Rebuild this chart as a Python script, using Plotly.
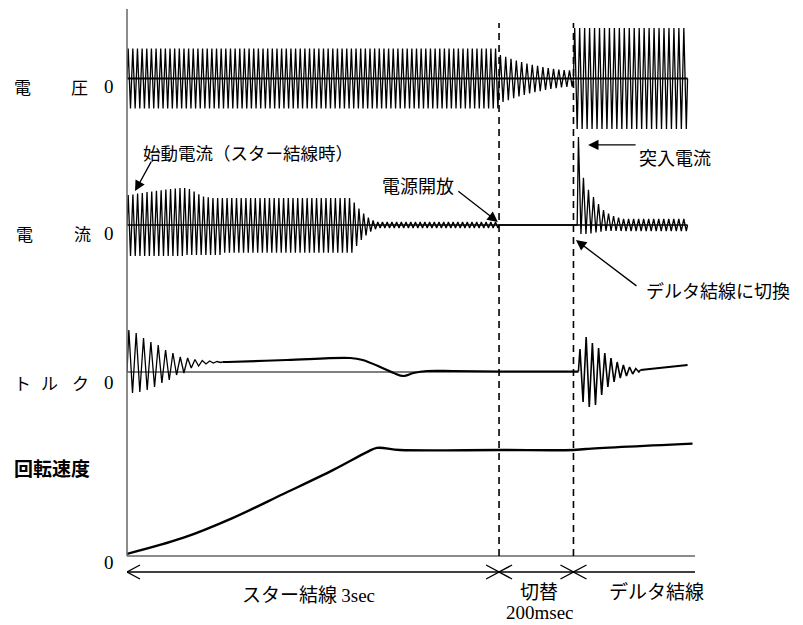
import plotly.graph_objects as go

# 時間軸（任意単位）: スター結線 0-3.0, 切替 3.0-3.6, デルタ結線 3.6-
phase_edges = [0.0, 3.0, 3.6]
phase_names = ["スター結線", "切替", "デルタ結線"]
x_end = 4.58
rec_end = 4.52

row_names = [["電", "圧"], ["電", "流"], ["ト", "ル", "ク"], ["回転速度"]]

# 電圧 (各サイクルの振幅)
volt_star_amp = [1.0] * 80
volt_open_amp = [0.78, 0.72, 0.66, 0.6, 0.55, 0.5, 0.46, 0.42, 0.38, 0.35, 0.32, 0.3, 0.28, 0.27]
volt_delta_amp = [1.68] * 23

# 電流 (各サイクルの上側・下側ピーク)
cur_star_up = ([1.0, 1.02, 1.05, 1.07, 1.1, 1.12, 1.14, 1.16, 1.18, 1.2, 1.22, 1.23, 1.23,
                1.2, 1.12, 1.02, 0.95, 0.92, 0.9] + [0.9] * 29
               + [0.75, 0.55, 0.38, 0.25, 0.15] + [0.1] * 26)
cur_star_dn = ([-1.03] * 12 + [-1.0] * 8 + [-0.92] * 28
               + [-0.7, -0.5, -0.35, -0.22, -0.14] + [-0.1] * 26)
cur_delta_up = [2.93, 1.57, 1.17, 0.93, 0.7, 0.5, 0.38, 0.3, 0.25] + [0.2] * 13
cur_delta_dn = [-0.3, -0.3, -0.28, -0.25, -0.22, -0.2, -0.2, -0.2] + [-0.2] * 14

# トルク
trq_star_up = [4.2, 3.9, 3.4, 3.0, 2.7, 2.2, 1.9, 1.5, 1.4, 1.25, 1.15, 1.1, 1.05]
trq_star_dn = [-2.1, -2.0, -1.8, -1.5, -1.1, -0.8, -0.3, -0.1, 0.4, 0.6, 0.8, 0.9, 0.95]
trq_mid_x = [0.77, 0.81, 1.29, 1.80, 1.90, 2.06, 2.15, 2.23, 2.31, 2.42, 2.63, 3.0, 3.64]
trq_mid_y = [1.0, 1.0, 1.2, 1.4, 1.2, 0.4, -0.1, -0.4, -0.1, 0.1, 0.1, 0.05, 0.05]
trq_delta_up = [2.3, 3.5, 2.9, 2.4, 1.9, 1.4, 1.0, 0.7, 0.5, 0.35]
trq_delta_dn = [-3.0, -3.5, -3.3, -2.3, -1.5, -1.0, -0.6, -0.4, -0.2, 0.0]
trq_end_x = [4.14, rec_end]
trq_end_y = [0.2, 0.7]

# 回転速度
spd_x = [0.0, 0.45, 0.855, 1.26, 1.66, 1.935, 2.016, 2.2, 3.0, 3.6, 3.7, 4.56]
spd_y = [0.02, 0.17, 0.36, 0.585, 0.81, 0.98, 1.02, 1.0, 1.0, 1.0, 1.01, 1.06]

CJK = "Noto Sans CJK JP"
SERIF = "Liberation Serif"
L, R, T, B = 127, 695, 9, 556   # plot area in px


def wave(x0, x1, ups, downs, y0=0.0, y1=0.0):
    n = len(ups)
    dt = (x1 - x0) / n
    xs, ys = [x0], [y0]
    for i in range(n):
        xs += [x0 + (i + 0.25) * dt, x0 + (i + 0.75) * dt]
        ys += [ups[i], downs[i]]
    xs.append(x1)
    ys.append(y1)
    return xs, ys


def dom(top, bot):
    return [(B - bot) / (B - T), (B - top) / (B - T)]


def px(x):
    return (x - L) / (R - L)


def py(y):
    return (B - y) / (B - T)


fig = go.Figure()
blk = dict(color="black", width=1.3)

# 電圧
xs, ys = wave(0, 3.0, volt_star_amp, [-a for a in volt_star_amp])
x2, y2 = wave(3.0, 3.6, volt_open_amp, [-a for a in volt_open_amp])
x3, y3 = wave(3.6, rec_end, volt_delta_amp, [-a for a in volt_delta_amp])
fig.add_trace(go.Scatter(x=xs + x2 + x3, y=ys + y2 + y3, mode="lines", line=blk, yaxis="y4"))
fig.add_trace(go.Scatter(x=[0, rec_end], y=[0, 0], mode="lines",
                         line=dict(color="black", width=2), yaxis="y4"))

# 電流
xs, ys = wave(0, 3.0, cur_star_up, cur_star_dn)
x3, y3 = wave(3.63, rec_end, cur_delta_up, cur_delta_dn)
fig.add_trace(go.Scatter(x=xs + [3.63] + x3, y=ys + [0] + y3, mode="lines", line=blk, yaxis="y3"))
fig.add_trace(go.Scatter(x=[0, rec_end], y=[0, 0], mode="lines",
                         line=dict(color="black", width=1.5), yaxis="y3"))

# トルク
xs, ys = wave(0, 0.77, trq_star_up, trq_star_dn, 0.0, 1.0)
fig.add_trace(go.Scatter(x=xs, y=ys, mode="lines", line=blk, yaxis="y2"))
fig.add_trace(go.Scatter(x=trq_mid_x, y=trq_mid_y, mode="lines", line_shape="spline",
                         line=dict(color="black", width=2.2), yaxis="y2"))
x3, y3 = wave(3.64, 4.14, trq_delta_up, trq_delta_dn, 0.05, 0.2)
fig.add_trace(go.Scatter(x=x3, y=y3, mode="lines", line=dict(color="black", width=1.6), yaxis="y2"))
fig.add_trace(go.Scatter(x=trq_end_x, y=trq_end_y, mode="lines",
                         line=dict(color="black", width=2.2), yaxis="y2"))
fig.add_trace(go.Scatter(x=[0, 3.64], y=[0, 0], mode="lines",
                         line=dict(color="black", width=1.2), yaxis="y2"))

# 回転速度
fig.add_trace(go.Scatter(x=spd_x, y=spd_y, mode="lines", line_shape="spline",
                         line=dict(color="black", width=2.4), yaxis="y"))

shapes = []
# 軸
shapes.append(dict(type="line", xref="paper", yref="paper", x0=0, x1=0, y0=0, y1=1,
                   line=dict(color="#666", width=1.5)))
shapes.append(dict(type="line", xref="paper", yref="paper", x0=0, x1=1, y0=0, y1=0,
                   line=dict(color="#666", width=1.5)))
# 破線
for xe in phase_edges[1:]:
    shapes.append(dict(type="line", xref="x", yref="paper", x0=xe, x1=xe, y0=0, y1=py(23),
                       line=dict(color="black", width=1.6, dash="7px,5px")))
# 期間矢印
ya = py(572)
hy = 7 / (B - T)
hx = 13 / (R - L) * x_end
shapes.append(dict(type="line", xref="x", yref="paper", x0=0, x1=x_end, y0=ya, y1=ya,
                   line=dict(color="black", width=1.4)))
for i, xe in enumerate(phase_edges):
    shapes.append(dict(type="path", xref="x", yref="paper",
                       path=f"M{xe+hx},{ya+hy} L{xe},{ya} L{xe+hx},{ya-hy}",
                       line=dict(color="black", width=1.4)))
    if i > 0:
        shapes.append(dict(type="path", xref="x", yref="paper",
                           path=f"M{xe-hx},{ya+hy} L{xe},{ya} L{xe-hx},{ya-hy}",
                           line=dict(color="black", width=1.4)))

ann = []


def txt(t, x, y, size=18, fam=CJK, anchor="center"):
    ann.append(dict(text=t, xref="paper", yref="paper", x=px(x), y=py(y), showarrow=False,
                    xanchor=anchor, yanchor="middle", font=dict(family=fam, size=size, color="black")))


# 行ラベル
row_x = [[22, 79], [24, 82], [22, 50, 80]]
row_y = [86, 233, 382]
for names, xx, yy in zip(row_names[:3], row_x, row_y):
    for c, x in zip(names, xx):
        txt(c, x, yy, 17)
    txt("0", 108.5, yy, 19, SERIF)
ann.append(dict(text="<b>" + row_names[3][0] + "</b>", xref="paper", yref="paper",
                x=px(12), y=py(483), showarrow=False, xanchor="left",
                font=dict(family=CJK, size=19, color="black")))
txt("0", 109, 562, 19, SERIF)

# 期間ラベル
txt(phase_names[0] + " <span style='font-family:Liberation Serif'>3sec</span>", 308, 593, 19)
txt(phase_names[1], 539, 591, 19)
txt(phase_names[2], 656, 591, 19)
txt("200msec", 540, 612, 19, SERIF)

# 注記
txt("始動電流（スター結線時）", 141, 152, 17.5, anchor="left")
txt("電源開放", 456, 185, 18, anchor="right")
txt("突入電流", 637, 157, 18, anchor="left")
txt("デルタ結線に切換", 644, 290, 18, anchor="left")

arrows = [(0.065, 1.13, 17, -31), (3.718, 2.67, 49, 0), (2.99, 0.1, -41, -32), (3.62, -0.5, 62, 47)]
for x, y, ax, ay in arrows:
    ann.append(dict(text="", x=x, y=y, xref="x", yref="y3", ax=ax, ay=ay, showarrow=True,
                    arrowhead=2, arrowsize=1.6, arrowwidth=1.3, arrowcolor="black"))

fig.update_layout(
    width=803, height=625,
    margin=dict(l=L, r=803 - R, t=T, b=625 - B),
    paper_bgcolor="white", plot_bgcolor="white",
    showlegend=False,
    xaxis=dict(range=[0, x_end], visible=False),
    yaxis=dict(domain=dom(436, 556), range=[0, 1.132], visible=False),
    yaxis2=dict(domain=dom(312, 432), range=[-6, 6], visible=False),
    yaxis3=dict(domain=dom(135, 315), range=[-3, 3], visible=False),
    yaxis4=dict(domain=dom(20, 137), range=[-1.95, 1.95], visible=False),
    shapes=shapes, annotations=ann,
)

# ページ余白を消して図を左上に合わせる
fig.write_html("out.html", config={"displayModeBar": False},
               post_script="document.body.style.margin='0';")
